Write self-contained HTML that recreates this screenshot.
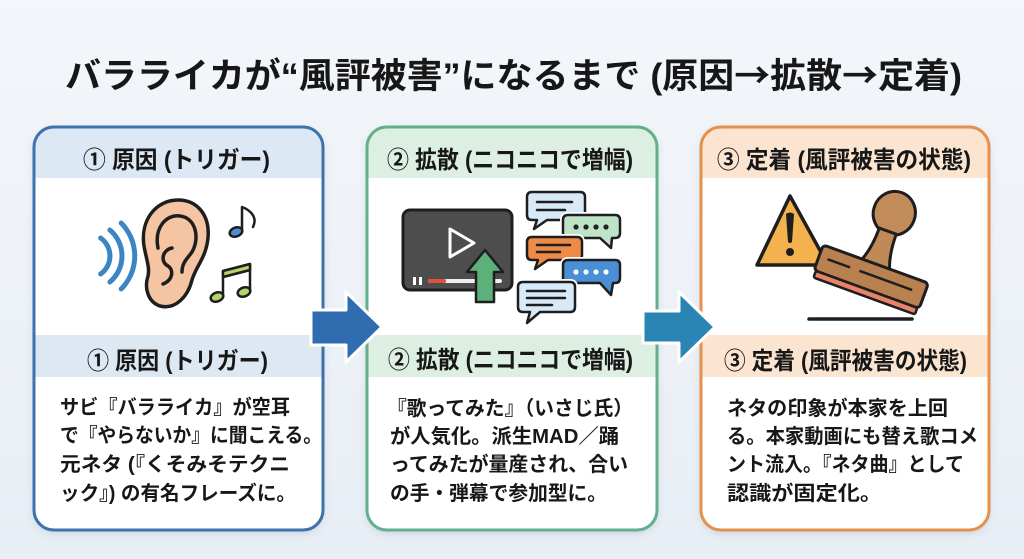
<!DOCTYPE html>
<html><head><meta charset="utf-8"><style>
html,body{margin:0;padding:0;width:1024px;height:559px;overflow:hidden;background:#eef3f8}
svg{display:block}
text{font-family:"Liberation Sans","Noto Sans CJK JP",sans-serif;font-weight:bold;fill:#171717}
.cj{font-family:"Noto Sans CJK JP",sans-serif}
</style></head><body>
<svg width="1024" height="559" viewBox="0 0 1024 559" xmlns="http://www.w3.org/2000/svg">
<defs>
<linearGradient id="bg" x1="0" y1="0" x2="0" y2="1"><stop offset="0" stop-color="#f3f6fa"/><stop offset="1" stop-color="#e8eef5"/></linearGradient>
<filter id="sh" x="-10%" y="-10%" width="120%" height="125%"><feDropShadow dx="0" dy="3" stdDeviation="4" flood-color="#4a5a70" flood-opacity="0.2"/></filter>
<clipPath id="c1"><rect x="34" y="127" width="289" height="403" rx="20"/></clipPath>
<clipPath id="c2"><rect x="367" y="127" width="290" height="403" rx="20"/></clipPath>
<clipPath id="c3"><rect x="701" y="127" width="288" height="403" rx="20"/></clipPath>
</defs>
<rect width="1024" height="559" fill="url(#bg)"/>

<!-- Title -->
<text x="65" y="88" font-size="35" font-weight="900" textLength="897" lengthAdjust="spacingAndGlyphs">バラライカが“風評被害”になるまで (原因<tspan class="cj">→</tspan>拡散<tspan class="cj">→</tspan>定着)</text>

<!-- Box 1 -->
<rect x="34" y="127" width="289" height="403" rx="20" fill="#fff" filter="url(#sh)"/>
<g clip-path="url(#c1)">
<rect x="34" y="127" width="289" height="51" fill="#dce8f4"/>
<rect x="34" y="335" width="289" height="42" fill="#dde8f3"/>
</g>
<rect x="34" y="127" width="289" height="403" rx="20" fill="none" stroke="#3d72ad" stroke-width="3"/>

<!-- Box 2 -->
<rect x="367" y="127" width="290" height="403" rx="20" fill="#fff" filter="url(#sh)"/>
<g clip-path="url(#c2)">
<rect x="367" y="127" width="290" height="51" fill="#dcefe2"/>
<rect x="367" y="335" width="290" height="42" fill="#dcefe2"/>
</g>
<rect x="367" y="127" width="290" height="403" rx="20" fill="none" stroke="#62b08a" stroke-width="3"/>

<!-- Box 3 -->
<rect x="701" y="127" width="288" height="403" rx="20" fill="#fff" filter="url(#sh)"/>
<g clip-path="url(#c3)">
<rect x="701" y="127" width="288" height="51" fill="#fbe4d0"/>
<rect x="701" y="335" width="288" height="42" fill="#fbe4d0"/>
</g>
<rect x="701" y="127" width="288" height="403" rx="20" fill="none" stroke="#e4914d" stroke-width="3"/>

<!-- Header texts -->
<text x="83" y="168" font-size="24" textLength="187" lengthAdjust="spacingAndGlyphs">① 原因 (トリガー)</text>
<text x="87" y="369" font-size="24" textLength="181" lengthAdjust="spacingAndGlyphs">① 原因 (トリガー)</text>
<text x="387" y="168" font-size="24" textLength="246" lengthAdjust="spacingAndGlyphs">② 拡散 (ニコニコで増幅)</text>
<text x="388" y="368" font-size="24" textLength="245" lengthAdjust="spacingAndGlyphs">② 拡散 (ニコニコで増幅)</text>
<text x="717" y="168" font-size="24" textLength="254" lengthAdjust="spacingAndGlyphs">③ 定着 (風評被害の状態)</text>
<text x="724" y="369" font-size="24" textLength="243" lengthAdjust="spacingAndGlyphs">③ 定着 (風評被害の状態)</text>

<!-- Body texts -->
<g font-size="20">
<text x="60" y="414" textLength="230" lengthAdjust="spacingAndGlyphs">サビ『バラライカ』が空耳</text>
<text x="60" y="442" textLength="262" lengthAdjust="spacingAndGlyphs">で『やらないか』に聞こえる。</text>
<text x="60" y="471" textLength="230" lengthAdjust="spacingAndGlyphs">元ネタ (『くそみそテクニ</text>
<text x="60" y="500" textLength="236" lengthAdjust="spacingAndGlyphs">ック』) の有名フレーズに。</text>

<text x="387" y="415" textLength="246" lengthAdjust="spacingAndGlyphs">『歌ってみた』（いさじ氏）</text>
<text x="390" y="443" textLength="229" lengthAdjust="spacingAndGlyphs">が人気化。派生MAD／踊</text>
<text x="390" y="471" textLength="238" lengthAdjust="spacingAndGlyphs">ってみたが量産され、合い</text>
<text x="390" y="500" textLength="217" lengthAdjust="spacingAndGlyphs">の手・弾幕で参加型に。</text>

<text x="727" y="415" textLength="221" lengthAdjust="spacingAndGlyphs">ネタの印象が本家を上回</text>
<text x="727" y="443" textLength="251" lengthAdjust="spacingAndGlyphs">る。本家動画にも替え歌コメ</text>
<text x="727" y="471" textLength="237" lengthAdjust="spacingAndGlyphs">ント流入。『ネタ曲』として</text>
<text x="727" y="500" textLength="155" lengthAdjust="spacingAndGlyphs">認識が固定化。</text>
</g>

<!-- Ear icon -->
<g fill="none" stroke="#3b85c4" stroke-width="5" stroke-linecap="round">
<path d="M100.6 238 A22 22 0 0 1 100.6 274"/>
<path d="M109.9 230 A34 34 0 0 1 109.9 282"/>
<path d="M121.2 223 A47 47 0 0 1 121.2 289"/>
</g>
<path d="M160 306 C148 302 144 288 148 276 C150 268 146 258 144 246 C140 220 156 200 178 200 C198 200 210 216 208 238 C206 258 196 266 192 280 C188 296 176 310 160 306 Z" fill="#f5c4a2" stroke="#1e1e1e" stroke-width="3.5" stroke-linejoin="round"/>
<path d="M158 248 C154 228 166 214 180 216 C196 218 200 238 192 252 C188 258 182 262 182 272" fill="none" stroke="#1e1e1e" stroke-width="3.5" stroke-linecap="round"/>
<path d="M172 248 C162 250 160 262 168 266 C174 270 173 280 163 284" fill="none" stroke="#1e1e1e" stroke-width="3.5" stroke-linecap="round"/>
<!-- notes -->
<g stroke="#1e1e1e" stroke-width="2.5" stroke-linecap="round" stroke-linejoin="round">
<path d="M242 231 V207 C250 210 258 217 253 227" fill="none"/>
<ellipse cx="236" cy="232" rx="6.5" ry="4.5" transform="rotate(-20 236 232)" fill="#4a8fd0"/>
<path d="M223 296 V271 L250 264 V291 M223 277 L250 270" fill="none"/>
<path d="M223 271 L250 264 L250 270 L223 277 Z" fill="#b5d46a"/>
<ellipse cx="217" cy="297" rx="6.5" ry="4.5" transform="rotate(-20 217 297)" fill="#b5d46a"/>
<ellipse cx="244" cy="292" rx="6.5" ry="4.5" transform="rotate(-20 244 292)" fill="#b5d46a"/>
</g>

<!-- Video + bubbles -->
<rect x="403" y="210" width="109" height="80" rx="7" fill="#4d4d4d" stroke="#1e1e1e" stroke-width="3"/>
<path d="M450 229 L474 243 L450 257 Z" fill="none" stroke="#fff" stroke-width="3" stroke-linejoin="round"/>
<rect x="413" y="277" width="3" height="8" fill="#fff"/><rect x="419" y="277" width="3" height="8" fill="#fff"/>
<rect x="428" y="279" width="74" height="4" rx="2" fill="#eee"/>
<rect x="428" y="279" width="18" height="4" rx="2" fill="#e0503c"/>
<path d="M485 250 L503 272 L494 272 L494 302 L476 302 L476 272 L467 272 Z" fill="#5db07a" stroke="#1e1e1e" stroke-width="2.5" stroke-linejoin="round"/>

<g stroke-linejoin="round">
<g>
<path d="M532 192 H580 Q585 192 585 197 V215 Q585 220 580 220 H547 L534 229 L537 220 H532 Q527 220 527 215 V197 Q527 192 532 192 Z" fill="#d8e9f8" stroke="#fff" stroke-width="6"/>
<path d="M532 192 H580 Q585 192 585 197 V215 Q585 220 580 220 H547 L534 229 L537 220 H532 Q527 220 527 215 V197 Q527 192 532 192 Z" fill="#d8e9f8" stroke="#1e1e1e" stroke-width="2.5"/>
<path d="M537 202 H572 M537 210 H565" stroke="#1e1e1e" stroke-width="2.5" stroke-linecap="round"/>
</g>
<g>
<path d="M568 215 H615 Q620 215 620 220 V233 Q620 238 615 238 H612 L611 248 L600 238 H568 Q563 238 563 233 V220 Q563 215 568 215 Z" fill="#bfe3c6" stroke="#fff" stroke-width="6"/>
<path d="M568 215 H615 Q620 215 620 220 V233 Q620 238 615 238 H612 L611 248 L600 238 H568 Q563 238 563 233 V220 Q563 215 568 215 Z" fill="#bfe3c6" stroke="#1e1e1e" stroke-width="2.5"/>
<g fill="#222"><circle cx="576" cy="227" r="2.6"/><circle cx="586" cy="227" r="2.6"/><circle cx="596" cy="227" r="2.6"/><circle cx="606" cy="227" r="2.6"/></g>
</g>
<g>
<path d="M532 237 H577 Q582 237 582 242 V255 Q582 260 577 260 H548 L535 269 L538 260 H532 Q527 260 527 255 V242 Q527 237 532 237 Z" fill="#ee8b47" stroke="#fff" stroke-width="6"/>
<path d="M532 237 H577 Q582 237 582 242 V255 Q582 260 577 260 H548 L535 269 L538 260 H532 Q527 260 527 255 V242 Q527 237 532 237 Z" fill="#ee8b47" stroke="#1e1e1e" stroke-width="2.5"/>
<path d="M537 245 H570 M537 252 H560" stroke="#1e1e1e" stroke-width="2.5" stroke-linecap="round"/>
</g>
<g>
<path d="M568 260 H615 Q620 260 620 265 V278 Q620 283 615 283 H613 L611 295 L600 283 H568 Q563 283 563 278 V265 Q563 260 568 260 Z" fill="#4a8fd6" stroke="#fff" stroke-width="6"/>
<path d="M568 260 H615 Q620 260 620 265 V278 Q620 283 615 283 H613 L611 295 L600 283 H568 Q563 283 563 278 V265 Q563 260 568 260 Z" fill="#4a8fd6" stroke="#1e1e1e" stroke-width="2.5"/>
<g fill="#fff"><circle cx="576" cy="272" r="2.6"/><circle cx="586" cy="272" r="2.6"/><circle cx="596" cy="272" r="2.6"/><circle cx="606" cy="272" r="2.6"/></g>
</g>
<g>
<path d="M523 282 H570 Q575 282 575 287 V307 Q575 312 570 312 H540 L527 323 L530 312 H523 Q518 312 518 307 V287 Q518 282 523 282 Z" fill="#d8e9f8" stroke="#fff" stroke-width="6"/>
<path d="M523 282 H570 Q575 282 575 287 V307 Q575 312 570 312 H540 L527 323 L530 312 H523 Q518 312 518 307 V287 Q518 282 523 282 Z" fill="#d8e9f8" stroke="#1e1e1e" stroke-width="2.5"/>
<path d="M527 291 H565 M527 298 H565 M527 305 H552" stroke="#1e1e1e" stroke-width="2.5" stroke-linecap="round"/>
</g>
</g>

<!-- Warning + stamp -->
<path d="M790 196 L828 265 L757 265 Z" fill="#f4b24e" stroke="#1e1e1e" stroke-width="3.5" stroke-linejoin="round"/>
<path d="M786 214 Q790 211 794 214 L792 242 Q790 244 788 242 Z" fill="#1e1e1e"/>
<circle cx="790" cy="252" r="4" fill="#1e1e1e"/>
<path d="M809 319 H912" stroke="#1e1e1e" stroke-width="3.5" stroke-linecap="round"/>
<g transform="translate(870 280) rotate(20)" stroke="#1e1e1e" stroke-linejoin="round">
<ellipse cx="0" cy="-71" rx="21" ry="22" fill="#c28b5a" stroke-width="3"/>
<path d="M-15 -16 C-10 -28 -9 -40 -9 -52 L9 -52 C9 -40 10 -28 15 -16 Z" fill="#c08a58" stroke-width="3"/>
<rect x="-56" y="-17" width="112" height="27" rx="4" fill="#b98150" stroke-width="3"/>
<rect x="-54" y="10" width="108" height="7" rx="2" fill="#e8826a" stroke-width="2.5"/>
<path d="M-46 -5 H-24 M-12 -5 H42" stroke-width="2.5" stroke-linecap="round" fill="none"/>
</g>

<!-- Arrows -->
<path d="M311 310 H346 V292 L382 327 L346 362 V345 H311 Z" fill="#2f6db0" stroke="#fff" stroke-width="3" stroke-linejoin="round"/>
<path d="M643 311 H679 V292 L715 327 L679 362 V343 H643 Z" fill="#2a84b4" stroke="#fff" stroke-width="3" stroke-linejoin="round"/>
</svg>
</body></html>
